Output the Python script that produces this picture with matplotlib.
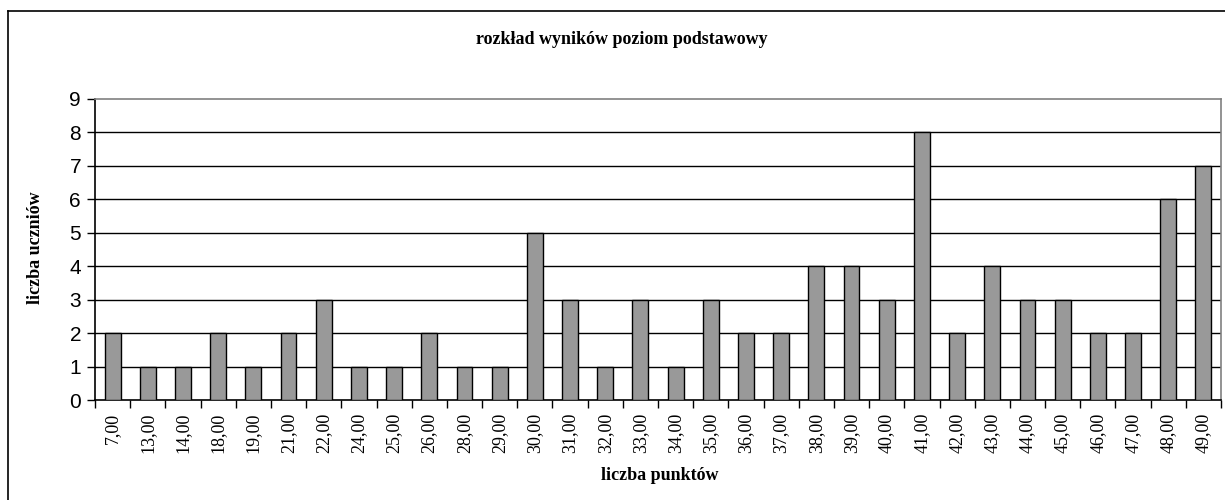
import numpy as np
import matplotlib
matplotlib.use("Agg")
import matplotlib.pyplot as plt
from matplotlib.lines import Line2D

# punkty i liczba uczniów
points = [7, 13, 14, 18, 19, 21, 22, 24, 25, 26, 28, 29, 30, 31, 32, 33,
          34, 35, 36, 37, 38, 39, 40, 41, 42, 43, 44, 45, 46, 47, 48, 49]
counts = [2, 1, 1, 2, 1, 2, 3, 1, 1, 2, 1, 1, 5, 3, 1, 3,
          1, 3, 2, 2, 4, 4, 3, 8, 2, 4, 3, 3, 2, 2, 6, 7]
labels = [f"{p},00" for p in points]

serif = "Liberation Serif"
sans = "Liberation Sans"

fig = plt.figure(figsize=(12.25, 5), dpi=100)
ax = fig.add_axes([95 / 1225, 1 - 400 / 500, (1221 - 95) / 1225, (400 - 99) / 500])

x = np.arange(len(points))
ax.bar(x, counts, width=0.45, color="#999999", edgecolor="black", linewidth=1, zorder=3)

ax.set_xlim(-0.5, len(points) - 0.5)
ax.set_ylim(0, 9)
ax.set_yticks(range(0, 10))
ax.tick_params(axis="y", labelsize=15, length=6, width=1, direction="out", pad=4)
for t in ax.get_yticklabels():
    t.set_fontfamily(sans)

# ticks on category boundaries, labels in the middle
ax.set_xticks(np.arange(-0.5, len(points), 1.0))
ax.set_xticklabels([])
ax.tick_params(axis="x", which="major", length=6, width=1, direction="out")
ax.set_xticks(x, minor=True)
ax.set_xticklabels(labels, minor=True, rotation=90, fontfamily=serif, fontsize=13)
ax.tick_params(axis="x", which="minor", length=0, pad=9)

for y in range(1, 9):
    ax.axhline(y, color="black", linewidth=1, zorder=1)

ax.spines["left"].set_color("black")
ax.spines["bottom"].set_color("black")
ax.spines["top"].set_color("#808080")
ax.spines["right"].set_color("#808080")
for s in ax.spines.values():
    s.set_linewidth(1.2)

fig.text(622 / 1225, 1 - 40 / 500, "rozkład wyników poziom podstawowy",
         ha="center", va="center", fontfamily=serif, fontweight="bold", fontsize=13)
fig.text(660 / 1225, 1 - 475 / 500, "liczba punktów",
         ha="center", va="center", fontfamily=serif, fontweight="bold", fontsize=13)
fig.text(35 / 1225, 1 - 248 / 500, "liczba uczniów", rotation=90,
         ha="center", va="center", fontfamily=serif, fontweight="bold", fontsize=13)

# chart border (left and top visible)
fig.add_artist(Line2D([8 / 1225, 8 / 1225], [0, 1 - 11 / 500], color="black", linewidth=1.2))
fig.add_artist(Line2D([8 / 1225, 1], [1 - 11 / 500, 1 - 11 / 500], color="black", linewidth=1.2))

fig.savefig("out.png", dpi=100)
